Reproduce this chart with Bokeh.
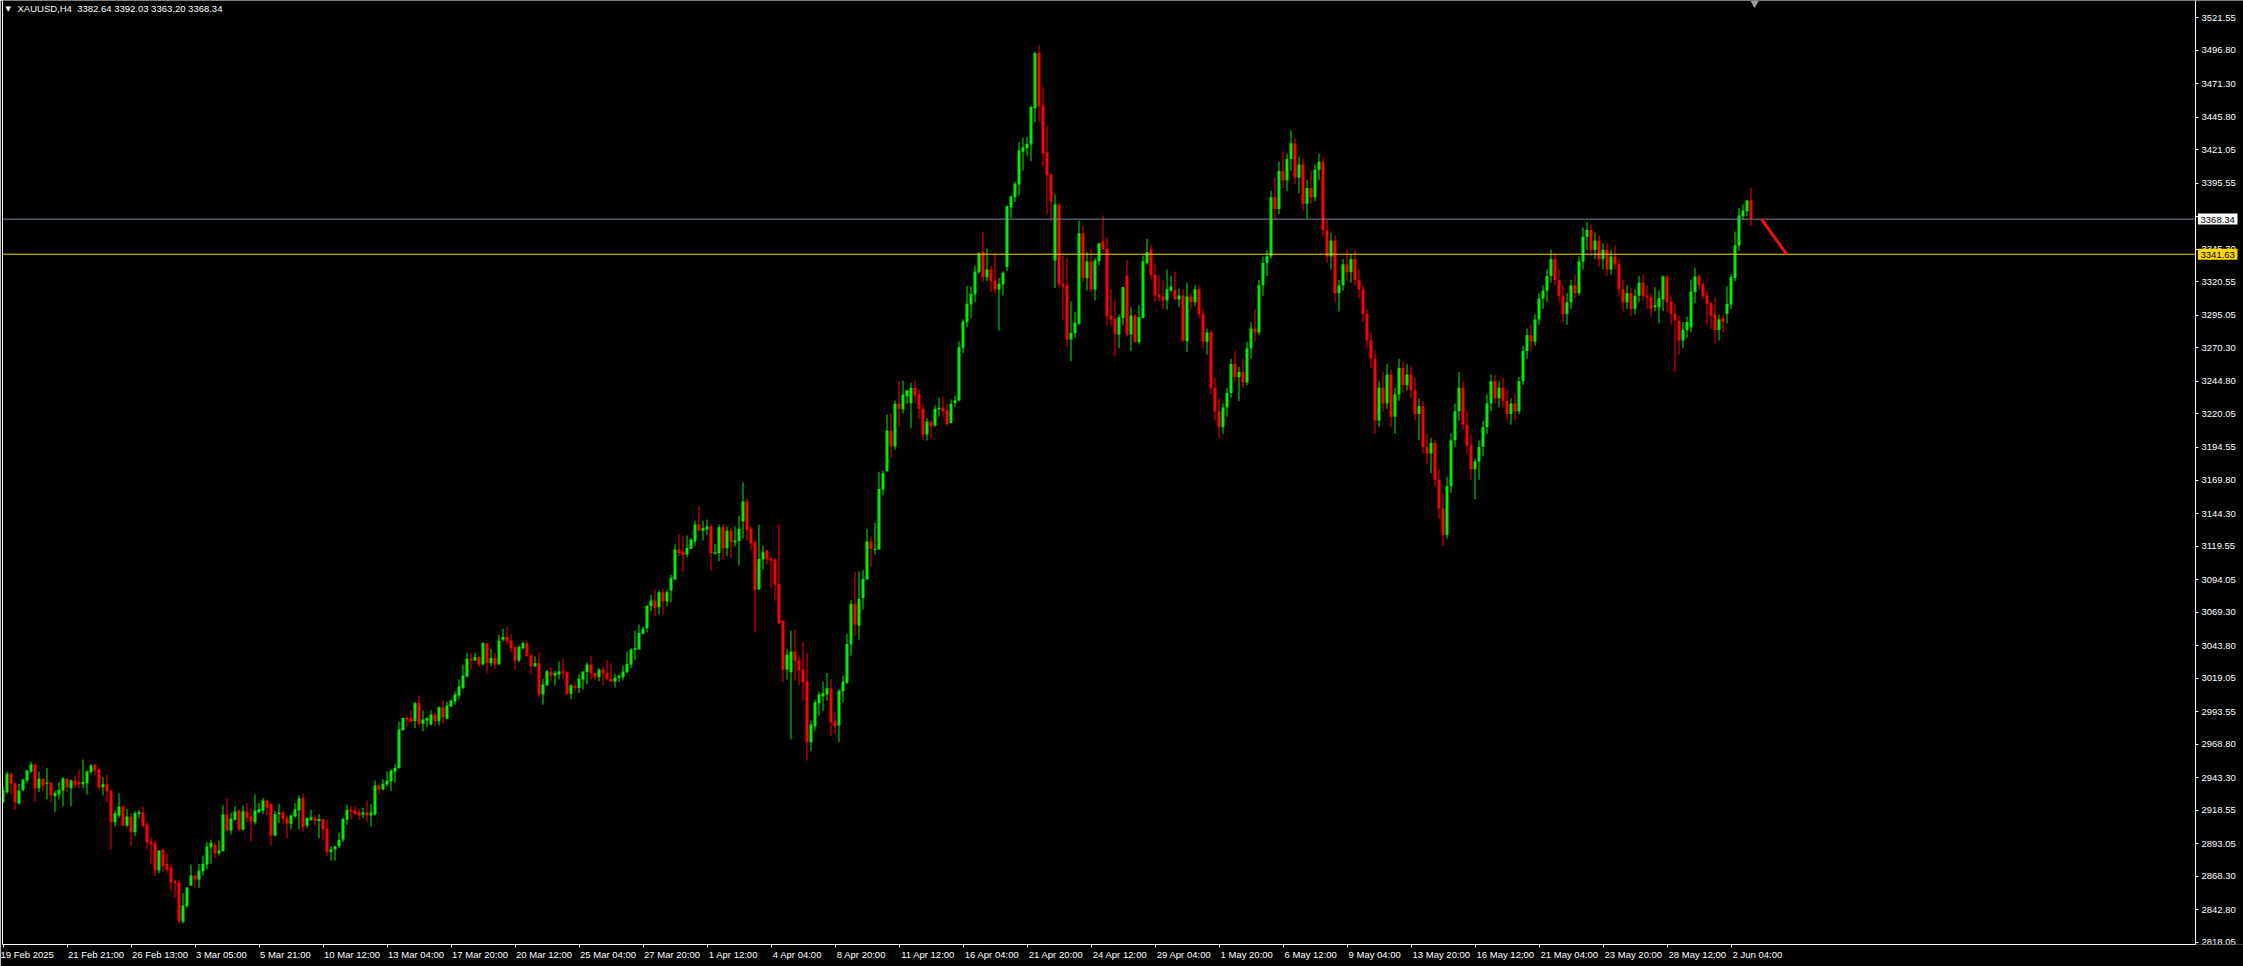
from bokeh.plotting import figure
from bokeh.models import (Range1d, FixedTicker, Label, ColumnDataSource,
                          PrintfTickFormatter, LinearAxis)
from bokeh.embed import file_html
from bokeh.resources import INLINE

symbol = "XAUUSD,H4"
last_ohlc = ["3382.64", "3392.03", "3363.20", "3368.34"]

opens = [
2924.6,2932.2,2946.2,2939.1,2923.4,2933.5,2941.1,2948.0,2953.3,2935.3,
2942.4,2938.6,2939.6,2929.2,2930.5,2933.5,2942.4,2935.3,2941.1,2939.8,
2938.3,2939.1,2947.5,2953.3,2949.5,2936.0,2938.3,2933.5,2909.4,2914.5,
2921.3,2906.9,2913.7,2901.8,2915.7,2917.0,2907.6,2894.7,2893.4,2872.6,
2888.6,2877.7,2874.4,2864.5,2863.7,2833.8,2845.5,2861.2,2868.8,2865.8,
2872.1,2877.2,2890.4,2892.4,2885.8,2887.3,2915.2,2903.1,2911.2,2918.3,
2903.8,2917.5,2913.7,2909.4,2917.0,2918.3,2925.9,2923.4,2899.2,2915.7,
2916.8,2912.4,2908.1,2913.7,2918.3,
2927.7,2906.9,2911.2,2912.7,2910.2,2911.9,2904.3,2886.6,2888.6,2891.1,
2896.2,2911.4,2918.8,2918.3,2917.0,2915.0,2916.7,2914.5,2915.2,2937.3,
2934.3,2938.1,2940.3,2948.0,2950.5,2979.2,2988.8,2988.5,2986.3,3000.0,
2984.2,2986.8,2983.7,2991.3,2986.3,2996.9,2988.0,2997.4,3001.2,3005.8,
3011.6,3020.3,3033.7,3032.4,3035.0,3029.4,3045.6,3030.4,3034.2,3029.4,
3048.2,3050.2,3047.6,3042.6,3032.4,3041.8,3045.6,3036.2,3028.1,3030.4,
3006.6,3013.4,3023.6,3021.0,3021.8,3024.3,3023.6,3007.1,3012.9,3011.6,
3018.0,3023.6,3029.4,3023.0,
3019.7,3025.5,3023.0,3018.4,3016.4,3019.2,3019.7,3023.5,3029.3,3040.5,
3040.8,3052.7,3057.0,3073.7,3078.0,3073.0,3084.4,3077.5,3085.7,3094.0,
3116.9,3115.3,3113.1,3117.4,3123.0,3135.9,3131.3,3132.1,3134.6,3113.6,
3114.1,3133.9,3117.9,3131.3,3122.4,3123.2,3138.4,3153.4,3132.6,3122.4,
3086.4,3109.3,3116.1,3109.8,3109.3,3090.7,3062.8,3025.5,3023.5,3039.2,
3032.4,3025.5,3016.4,2970.2,2982.4,2999.9,3005.2,3006.5,3011.3,2986.2,
2982.9,3009.0,3015.4,3044.6,3075.5,3059.0,3080.1,3094.0,3123.0,3116.6,
3116.9,3162.5,3176.5,3207.4,
3195.3,3227.8,3223.5,3233.6,3228.3,3239.9,3234.9,3224.0,3204.4,3214.3,
3211.3,3223.5,3224.7,3222.7,3213.1,3228.3,3230.3,3270.4,3289.9,3303.4,
3311.0,3328.0,3343.7,3324.2,3330.0,3321.6,3314.8,3318.6,3331.8,3377.4,
3385.0,3394.7,3419.8,3422.3,3425.1,3452.8,3494.6,3454.8,3419.3,3402.3,
3336.9,3379.4,3319.1,3317.8,3276.7,3281.6,3288.7,3357.6,3323.4,3336.1,
3314.8,3336.4,3351.3,3345.7,3295.0,3292.5,3280.5,3293.2,3325.4,3280.5,
3295.0,3274.7,3293.0,3334.8,3345.2,3326.2,3311.0,3309.5,3306.4,3314.0,
3314.5,3307.2,3310.2,3275.5,
3309.5,3305.1,3315.0,3296.0,3275.0,3282.0,3240.0,3222.0,3210.0,3225.0,
3236.0,3258.0,3248.0,3252.0,3244.0,3270.0,3285.0,3282.0,3318.0,3335.0,
3340.0,3385.0,3376.0,3405.0,3398.0,3414.0,3426.0,3400.0,3410.0,3380.0,
3392.0,3385.0,3406.0,3412.0,3360.0,3340.0,3352.0,3312.0,3318.0,3334.0,
3328.0,3338.0,3322.0,3315.0,3296.0,3276.0,3262.0,3215.0,3240.0,3228.0,
3250.0,3218.0,3235.0,3255.0,3242.0,3250.0,3238.0,3220.0,3226.0,3195.0,
3190.0,3198.0,3170.0,3148.0,3128.0,3165.0,3200.0,3222.0,3240.0,3212.0,
3196.0,3178.0,3184.0,3195.0,3210.0,3228.0,3245.0,3232.0,3240.0,3230.0,
3220.0,3228.0,3222.0,3245.0,3268.0,3280.0,3275.0,3292.0,3308.0,3314.0,
3325.0,3338.0,3322.0,3310.0,3296.0,3305.0,3318.0,3312.0,3336.0,3355.0,
3360.0,3345.0,3352.0,3338.0,3345.0,3330.0,3340.0,3334.0,3315.0,3305.0,
3312.0,3300.0,3310.0,3320.0,3310.0,
3308.9,3301.3,3301.3,3307.2,3324.7,3305.6,3296.3,3291.0,3276.0,3284.0,
3286.0,3312.8,3324.7,3318.6,3310.2,3304.4,3295.8,3284.0,3293.0,3296.3,
3303.4,3323.4,3348.3,3370.6,3374.4,3382.64,
]

closes = [
2933.5,2946.2,2938.6,2924.6,2933.5,2941.9,2948.7,2953.3,2935.3,2942.4,
2937.3,2939.6,2929.7,2931.5,2934.0,2942.9,2936.0,2941.1,2937.8,2938.3,
2939.8,2948.0,2952.5,2948.7,2936.0,2938.3,2933.0,2909.4,2916.2,2921.3,
2906.9,2913.7,2901.8,2916.2,2917.0,2906.9,2894.2,2892.7,2872.6,2887.8,
2876.4,2873.4,2863.7,2863.0,2833.8,2846.0,2859.7,2868.8,2865.8,2872.6,
2877.7,2890.9,2893.7,2885.8,2887.8,2915.2,2903.1,2912.2,2917.5,2903.8,
2917.8,2912.7,2909.4,2918.3,2919.5,2925.9,2920.3,2899.2,2915.7,2916.8,
2911.9,2908.1,2914.5,2919.0,2927.4,
2905.6,2912.7,2913.2,2910.2,2911.9,2903.8,2886.6,2888.6,2891.1,2895.9,
2911.9,2918.8,2917.5,2915.7,2914.5,2916.7,2914.5,2916.7,2937.3,2934.0,
2938.6,2941.1,2948.7,2950.7,2979.9,2988.8,2987.5,2986.0,3000.0,2984.2,
2987.5,2988.5,2991.3,2986.3,2996.9,2989.3,2998.2,3002.0,3006.6,3012.6,
3021.0,3033.7,3032.4,3035.0,3029.4,3045.6,3030.4,3034.2,3029.4,3047.6,
3050.2,3047.1,3041.8,3032.4,3042.6,3045.6,3035.7,3028.1,3030.4,3006.6,
3014.2,3024.3,3021.0,3023.0,3024.1,3022.8,3007.1,3013.4,3011.6,3018.5,
3024.1,3029.4,3022.8,3019.7,
3025.5,3022.7,3018.4,3016.4,3019.2,3020.5,3024.0,3029.8,3040.8,3041.8,
3053.4,3056.5,3074.2,3078.0,3072.5,3084.4,3077.5,3084.4,3095.3,3116.9,
3114.3,3112.8,3118.1,3124.5,3135.9,3131.3,3133.1,3134.4,3114.1,3114.8,
3133.9,3117.9,3131.3,3122.4,3123.7,3132.6,3153.4,3131.8,3121.7,3086.2,
3109.8,3114.8,3109.3,3108.5,3090.2,3061.0,3025.5,3036.9,3039.2,3031.9,
3024.8,3015.9,2970.2,2983.7,3000.7,3006.5,3007.5,3011.3,2985.4,2982.4,
3009.5,3016.4,3045.1,3075.5,3059.8,3079.3,3094.5,3123.0,3117.4,3117.4,
3163.0,3175.0,3207.4,3195.3,
3227.8,3224.0,3234.9,3237.9,3239.9,3234.1,3224.0,3204.4,3214.3,3210.8,
3224.0,3224.7,3222.2,3212.5,3227.8,3230.3,3270.9,3290.4,3303.9,3311.5,
3328.5,3341.9,3324.2,3330.0,3321.1,3314.8,3319.1,3327.5,3378.2,3385.5,
3395.2,3420.5,3423.1,3425.6,3453.6,3494.6,3454.3,3418.5,3401.5,3381.7,
3379.4,3318.6,3317.1,3276.7,3281.8,3289.4,3357.6,3323.4,3336.1,3314.8,
3336.9,3350.0,3345.2,3294.5,3292.0,3281.0,3293.7,3316.6,3280.5,3295.0,
3274.7,3293.7,3336.1,3343.2,3325.9,3310.2,3309.0,3306.4,3314.8,3317.1,
3307.2,3310.2,3276.0,3309.5,
3305.1,3315.0,3296.0,3275.0,3282.0,3240.0,3222.0,3210.0,3225.0,3236.0,
3258.0,3248.0,3252.0,3244.0,3270.0,3285.0,3282.0,3318.0,3335.0,3340.0,
3385.0,3376.0,3405.0,3398.0,3414.0,3426.0,3400.0,3410.0,3380.0,3392.0,
3385.0,3406.0,3412.0,3360.0,3340.0,3352.0,3312.0,3318.0,3334.0,3328.0,
3338.0,3322.0,3315.0,3296.0,3276.0,3262.0,3215.0,3240.0,3228.0,3250.0,
3218.0,3235.0,3255.0,3242.0,3250.0,3238.0,3220.0,3226.0,3195.0,3190.0,
3198.0,3170.0,3148.0,3128.0,3165.0,3200.0,3222.0,3240.0,3212.0,3196.0,
3178.0,3184.0,3195.0,3210.0,3228.0,3245.0,3232.0,3240.0,3230.0,3220.0,
3228.0,3222.0,3245.0,3268.0,3280.0,3275.0,3292.0,3308.0,3314.0,3325.0,
3338.0,3322.0,3310.0,3296.0,3305.0,3318.0,3312.0,3336.0,3355.0,3360.0,
3345.0,3352.0,3338.0,3345.0,3330.0,3340.0,3334.0,3315.0,3305.0,3312.0,
3300.0,3310.0,3320.0,3310.0,3308.9,
3300.1,3302.6,3308.2,3324.7,3305.1,3296.3,3291.2,3276.0,3284.0,3290.0,
3313.3,3324.7,3318.3,3309.5,3303.9,3295.0,3284.0,3292.0,3290.0,3303.9,
3324.2,3348.3,3371.1,3374.9,3382.5,3368.34,
]

highs = [
2936.5,2948.0,2946.9,2939.1,2938.6,2942.4,2949.2,2955.6,2953.3,2948.0,
2942.4,2950.5,2939.6,2933.5,2939.8,2943.6,2943.2,2941.9,2944.9,2949.5,
2957.1,2948.7,2953.8,2953.8,2950.0,2943.6,2945.7,2933.5,2918.3,2931.5,
2922.1,2919.5,2916.2,2917.8,2919.0,2921.3,2909.9,2897.5,2895.5,2887.8,
2888.6,2885.3,2877.2,2865.5,2865.5,2855.4,2859.7,2877.2,2868.8,2877.7,
2884.0,2894.2,2896.2,2894.2,2895.5,2922.1,2927.9,2916.5,2921.6,2919.0,
2922.1,2923.9,2919.5,2930.5,2923.9,2927.7,2925.9,2923.4,2917.8,2923.4,
2918.3,2914.5,2915.2,2923.9,2929.7,
2931.0,2912.7,2918.8,2915.0,2915.7,2911.9,2911.2,2891.1,2891.1,2901.3,
2912.7,2922.8,2921.3,2922.1,2919.5,2920.3,2925.9,2923.3,2941.1,2938.6,
2941.9,2948.0,2949.5,2953.3,2986.0,2988.8,2990.6,2994.4,3000.7,3005.8,
2994.4,2989.3,2994.4,2992.3,2997.4,3002.0,3001.2,3002.0,3008.8,3018.0,
3029.4,3038.3,3037.5,3038.3,3035.7,3046.4,3045.6,3041.3,3038.3,3052.2,
3056.5,3058.3,3052.2,3043.1,3043.9,3046.9,3047.6,3037.5,3035.5,3038.8,
3018.5,3024.8,3027.4,3024.8,3031.7,3033.7,3024.8,3014.7,3015.9,3021.8,
3024.1,3031.2,3036.2,3023.0,
3026.5,3027.8,3032.4,3030.6,3022.2,3022.2,3028.6,3039.2,3041.8,3055.2,
3059.8,3058.3,3074.2,3082.4,3086.4,3085.7,3086.9,3086.2,3097.8,3120.7,
3128.3,3127.0,3127.5,3125.5,3138.9,3149.8,3138.9,3139.7,3135.9,3121.2,
3135.9,3135.9,3134.4,3133.1,3134.4,3142.7,3168.1,3155.4,3134.6,3123.7,
3135.9,3119.9,3116.9,3112.3,3110.5,3136.4,3062.8,3041.3,3055.2,3056.0,
3036.2,3046.8,3038.2,2986.7,3002.7,3008.8,3016.4,3023.0,3018.4,2993.1,
3010.3,3021.0,3052.7,3078.6,3099.6,3100.1,3101.4,3132.6,3126.8,3137.2,
3175.7,3177.0,3219.6,3220.6,
3230.3,3244.8,3245.5,3238.7,3243.8,3246.0,3238.7,3227.8,3216.9,3215.1,
3226.5,3232.3,3232.8,3227.8,3231.1,3234.1,3275.2,3292.0,3317.3,3317.3,
3333.0,3343.2,3358.4,3345.7,3333.0,3341.9,3323.4,3328.7,3378.7,3386.3,
3396.9,3426.9,3430.2,3430.7,3454.8,3495.9,3500.5,3468.8,3438.8,3402.8,
3387.1,3379.9,3340.6,3338.9,3305.7,3297.5,3367.3,3363.5,3343.2,3345.2,
3338.9,3350.0,3371.1,3354.6,3315.3,3306.4,3295.8,3316.6,3336.9,3301.3,
3296.0,3302.6,3340.6,3353.3,3349.0,3334.8,3325.4,3321.6,3330.0,3325.4,
3328.5,3315.3,3314.8,3319.9,
3312.0,3318.0,3317.0,3300.0,3285.0,3284.0,3248.0,3232.0,3228.0,3240.0,
3262.0,3268.0,3256.0,3262.0,3275.0,3290.0,3300.0,3322.0,3340.0,3345.0,
3390.0,3400.0,3412.0,3420.0,3418.0,3436.0,3430.0,3416.0,3414.0,3398.0,
3405.0,3410.0,3418.0,3415.0,3368.0,3358.0,3356.0,3322.0,3338.0,3345.0,
3342.0,3344.0,3330.0,3318.0,3300.0,3282.0,3268.0,3245.0,3252.0,3258.0,
3254.0,3240.0,3262.0,3260.0,3258.0,3256.0,3248.0,3232.0,3230.0,3205.0,
3202.0,3200.0,3178.0,3160.0,3172.0,3205.0,3228.0,3252.0,3245.0,3222.0,
3204.0,3186.0,3200.0,3215.0,3235.0,3250.0,3250.0,3245.0,3248.0,3238.0,
3232.0,3236.0,3248.0,3272.0,3285.0,3288.0,3296.0,3312.0,3318.0,3330.0,
3345.0,3342.0,3330.0,3318.0,3312.0,3322.0,3326.0,3340.0,3362.0,3366.0,
3364.0,3358.0,3356.0,3350.0,3350.0,3345.0,3348.0,3338.0,3322.0,3318.0,
3316.0,3315.0,3325.0,3326.0,3318.0,
3312.0,3316.6,3314.0,3325.4,3324.7,3309.5,3303.4,3295.0,3290.0,3294.0,
3322.4,3331.3,3326.2,3320.1,3314.0,3305.1,3308.9,3295.8,3295.8,3317.1,
3326.2,3358.9,3376.7,3379.5,3383.0,3392.03,
]

lows = [
2924.0,2931.0,2931.0,2918.8,2923.4,2933.5,2939.1,2946.7,2924.6,2932.2,
2933.5,2926.7,2924.6,2917.0,2926.7,2921.6,2932.2,2921.6,2935.3,2935.3,
2935.3,2930.5,2946.2,2944.9,2933.5,2929.7,2924.6,2888.6,2906.1,2912.7,
2906.9,2905.6,2891.1,2898.7,2912.4,2905.1,2888.6,2877.7,2868.3,2870.6,
2871.9,2870.6,2856.9,2851.8,2833.3,2832.5,2844.0,2861.2,2859.7,2859.2,
2868.8,2873.4,2877.7,2882.2,2884.0,2887.3,2903.1,2900.0,2910.7,2902.6,
2903.1,2909.4,2894.7,2907.6,2916.2,2915.7,2914.5,2891.6,2898.5,2908.6,
2908.1,2897.2,2903.8,2912.7,2903.8,
2902.3,2904.8,2910.2,2906.9,2897.2,2895.9,2883.3,2880.2,2880.2,2889.9,
2894.2,2907.4,2911.4,2915.0,2911.2,2912.7,2909.4,2906.3,2914.5,2930.4,
2933.5,2936.8,2933.0,2939.1,2950.5,2979.2,2981.7,2985.5,2980.9,2983.0,
2978.7,2981.7,2983.0,2982.5,2983.0,2984.7,2988.0,2996.9,2998.7,3002.8,
3010.4,3019.5,3025.3,3032.4,3027.4,3028.6,3022.8,3028.1,3025.6,3029.4,
3046.9,3044.6,3038.8,3025.6,3031.2,3040.6,3035.7,3021.8,3027.4,3004.5,
2998.9,3013.4,3017.2,3013.4,3018.0,3019.0,3005.8,3002.8,3008.8,3007.6,
3010.4,3014.2,3018.0,3018.0,
3016.7,3013.4,3017.2,3015.9,3012.1,3015.9,3017.2,3023.0,3026.5,3033.1,
3040.8,3052.2,3053.9,3069.9,3066.1,3067.4,3067.4,3073.7,3076.8,3094.0,
3111.8,3099.6,3111.0,3117.9,3119.9,3130.6,3123.7,3128.0,3100.9,3113.1,
3108.0,3109.3,3111.8,3110.3,3119.1,3104.7,3125.5,3123.7,3116.1,3053.9,
3086.4,3101.6,3105.4,3087.4,3078.0,3059.8,3015.9,3017.9,2972.3,3017.2,
3013.4,3001.9,2956.3,2963.9,2979.1,2990.5,2994.3,3001.9,2974.8,2976.6,
2970.2,3000.7,3014.6,3036.2,3051.4,3048.4,3071.2,3094.0,3103.4,3113.1,
3116.9,3158.0,3176.5,3186.6,
3193.0,3210.0,3220.2,3227.8,3209.2,3228.5,3216.4,3199.9,3199.9,3201.9,
3210.0,3218.1,3217.6,3211.3,3213.1,3225.2,3229.5,3266.3,3286.1,3293.0,
3305.1,3326.7,3320.4,3321.1,3312.8,3312.2,3283.6,3310.2,3328.7,3369.0,
3381.2,3386.3,3405.3,3416.7,3412.4,3442.1,3442.6,3408.6,3372.3,3366.5,
3315.8,3316.1,3291.2,3270.9,3260.2,3278.0,3288.1,3320.4,3314.0,3312.8,
3306.4,3333.0,3344.5,3286.9,3287.4,3264.6,3270.1,3287.4,3279.3,3267.9,
3274.7,3272.9,3293.0,3333.8,3322.4,3305.1,3305.7,3299.6,3299.6,3312.8,
3307.2,3301.3,3274.7,3267.1,
3300.0,3302.0,3293.0,3270.0,3265.0,3235.0,3215.0,3202.0,3205.0,3218.0,
3232.0,3244.0,3230.0,3240.0,3242.0,3262.0,3275.0,3280.0,3310.0,3325.0,
3338.0,3368.0,3372.0,3392.0,3390.0,3405.0,3395.0,3388.0,3375.0,3368.0,
3380.0,3382.0,3398.0,3355.0,3335.0,3330.0,3305.0,3298.0,3314.0,3322.0,
3320.0,3318.0,3308.0,3290.0,3270.0,3255.0,3205.0,3210.0,3222.0,3224.0,
3210.0,3205.0,3230.0,3236.0,3238.0,3232.0,3215.0,3200.0,3190.0,3182.0,
3175.0,3165.0,3140.0,3120.0,3125.0,3160.0,3195.0,3215.0,3208.0,3190.0,
3170.0,3155.0,3170.0,3188.0,3205.0,3222.0,3228.0,3225.0,3225.0,3215.0,
3212.0,3215.0,3220.0,3242.0,3262.0,3268.0,3272.0,3288.0,3300.0,3305.0,
3320.0,3318.0,3305.0,3290.0,3288.0,3300.0,3308.0,3310.0,3330.0,3345.0,
3340.0,3338.0,3332.0,3330.0,3325.0,3326.0,3330.0,3310.0,3298.0,3300.0,
3295.0,3296.0,3305.0,3306.0,3300.0,
3294.0,3298.3,3289.0,3298.3,3297.5,3288.0,3252.0,3265.0,3270.0,3278.0,
3282.0,3304.4,3314.8,3307.7,3288.0,3285.0,3274.0,3276.0,3282.0,3289.0,
3300.0,3321.0,3344.4,3367.8,3370.3,3363.20,
]

date_tick_index = [0, 16, 32, 48, 64, 80, 96, 112, 128, 144, 160, 176, 192, 208,
                   224, 240, 256, 272, 288, 304, 320, 336, 352, 368, 384, 400, 416, 432]
date_tick_labels = ["19 Feb 2025", "21 Feb 21:00", "26 Feb 13:00", "3 Mar 05:00",
                    "5 Mar 21:00", "10 Mar 12:00", "13 Mar 04:00", "17 Mar 20:00",
                    "20 Mar 12:00", "25 Mar 04:00", "27 Mar 20:00", "1 Apr 12:00",
                    "4 Apr 04:00", "8 Apr 20:00", "11 Apr 12:00", "16 Apr 04:00",
                    "21 Apr 20:00", "24 Apr 12:00", "29 Apr 04:00", "1 May 20:00",
                    "6 May 12:00", "9 May 04:00", "13 May 20:00", "16 May 12:00",
                    "21 May 04:00", "23 May 20:00", "28 May 12:00", "2 Jun 04:00"]
price_ticks = [2818.05, 2842.80, 2868.30, 2893.05, 2918.55, 2943.30, 2968.80, 2993.55,
               3019.05, 3043.80, 3069.30, 3094.05, 3119.55, 3144.30, 3169.80, 3194.55,
               3220.05, 3244.80, 3270.30, 3295.05, 3320.55, 3345.30, 3370.05, 3395.55,
               3421.05, 3445.80, 3471.30, 3496.80, 3521.55]
bid_price = 3368.34
level_price = 3341.63
trend_x = [439.6, 445.9]
trend_y = [3368.34, 3341.63]
shift_marker_x = [437.9]

UP = "#00ee00"
DN = "#ff0000"
FONT = "Liberation Sans"
FS = "9.5px"

# ---------------- layout (pixels) ----------------
W, H = 2243, 966
BAR_PX = 4.0
FRAME_LEFT = 2
FRAME_BOTTOM_PAD = 22
PX_PER_PRICE = 1.31399
Y_TOP = 3534.72
x_start = -0.125
x_end = x_start + (W - FRAME_LEFT) / BAR_PX
x_border = 548.125                      # right edge of the chart area (price scale line)
y_bottom = Y_TOP - (H - FRAME_BOTTOM_PAD) / PX_PER_PRICE

n = len(closes)
idx = list(range(n))
cols = [UP if c >= o else DN for o, c in zip(opens, closes)]
btop, bbot = [], []
for o, c in zip(opens, closes):
    t, b = max(o, c), min(o, c)
    if t - b < 0.8:
        t = b + 0.8
    btop.append(t)
    bbot.append(b)

src = ColumnDataSource(dict(x=idx, h=highs[:n], l=lows[:n], t=btop, b=bbot, c=cols))

p = figure(width=W, height=H, output_backend="svg", toolbar_location=None,
           x_range=Range1d(x_start, x_end), y_range=Range1d(y_bottom, Y_TOP),
           x_axis_location="below", y_axis_location=None,
           background_fill_color="black", border_fill_color="black",
           min_border_left=FRAME_LEFT, min_border_top=0, min_border_right=0,
           min_border_bottom=FRAME_BOTTOM_PAD)
p.xgrid.visible = False
p.ygrid.visible = False
p.outline_line_color = None

# candles
p.segment(x0="x", y0="h", x1="x", y1="l", line_color="c", line_width=1, source=src)
p.vbar(x="x", width=0.75, top="t", bottom="b", fill_color="c", line_color=None, source=src)

# horizontal levels (stop at the price scale)
p.segment(x0=[x_start], y0=[bid_price], x1=[x_border], y1=[bid_price],
          line_color="#778899", line_width=1)
p.segment(x0=[x_start], y0=[level_price], x1=[x_border], y1=[level_price],
          line_color="#ffd700", line_width=1)
p.line(trend_x, trend_y, line_color="#ee1111", line_width=3)
p.scatter(x=shift_marker_x, y=[Y_TOP - 2.2], marker="inverted_triangle", size=8,
          fill_color="#a0a0a0", line_color=None)

# left border
la = LinearAxis(ticker=FixedTicker(ticks=[]), axis_line_color="white",
                major_tick_out=0, major_tick_in=0, major_label_standoff=0,
                minor_tick_line_color=None, major_tick_line_color=None)
p.add_layout(la, "left")

# price scale: fixed at the right edge of the chart area
ya = LinearAxis(fixed_location=x_border)
ya.ticker = FixedTicker(ticks=price_ticks, minor_ticks=[])
ya.formatter = PrintfTickFormatter(format="%.2f")
ya.axis_line_color = "white"
ya.major_tick_line_color = "white"
ya.major_tick_out = 3
ya.major_tick_in = 0
ya.minor_tick_line_color = None
ya.major_label_standoff = 3
ya.major_label_text_color = "white"
ya.major_label_text_font = FONT
ya.major_label_text_font_size = FS
p.add_layout(ya, "right")

# time scale (labels start at their tick, as in the terminal)
EM = {"0": .556, "1": .556, "2": .556, "3": .556, "4": .556, "5": .556, "6": .556,
      "7": .556, "8": .556, "9": .556, " ": .278, ":": .278, "F": .611, "e": .556,
      "b": .556, "M": .833, "a": .556, "r": .333, "A": .667, "p": .556, "y": .5,
      "J": .5, "u": .556, "n": .556}
def left_aligned(s, k):
    if k == 0:          # first label is pushed against the left edge anyway
        return s
    w = sum(EM.get(ch, .556) for ch in s)
    return "\u00a0" * (int(round(w / .278)) + 1) + s

xa = p.xaxis[0]
xa.ticker = FixedTicker(ticks=date_tick_index, minor_ticks=[])
xa.major_label_overrides = {t: left_aligned(s, k) for k, (t, s) in
                            enumerate(zip(date_tick_index, date_tick_labels))}
xa.bounds = (x_start, x_border)
xa.axis_line_color = "white"
xa.major_tick_line_color = "white"
xa.major_tick_out = 3
xa.major_tick_in = 0
xa.minor_tick_line_color = None
xa.major_label_standoff = 1
xa.major_label_text_color = "white"
xa.major_label_text_font = FONT
xa.major_label_text_font_size = FS

# price markers on the price scale
for price, bg in ((bid_price, "white"), (level_price, "#ffd700")):
    p.add_layout(Label(x=x_border + 0.6, y=price, text=f"\u00a0{price:.2f}\u00a0",
                       text_color="black", text_font=FONT, text_font_size=FS,
                       text_baseline="middle", text_align="left",
                       background_fill_color=bg))

# header
hdr_y = Y_TOP - 8.3 / PX_PER_PRICE
p.add_layout(Label(x=3, x_units="screen", y=hdr_y, text="\u25BC",
                   text_color="white", text_font="DejaVu Sans", text_font_size="7px",
                   text_baseline="middle", text_align="left"))
p.add_layout(Label(x=15, x_units="screen", y=hdr_y,
                   text=f"{symbol}\u00a0 " + " ".join(last_ohlc),
                   text_color="white", text_font=FONT, text_font_size=FS,
                   text_baseline="middle", text_align="left"))

open("out.html", "w").write(file_html(p, INLINE))
